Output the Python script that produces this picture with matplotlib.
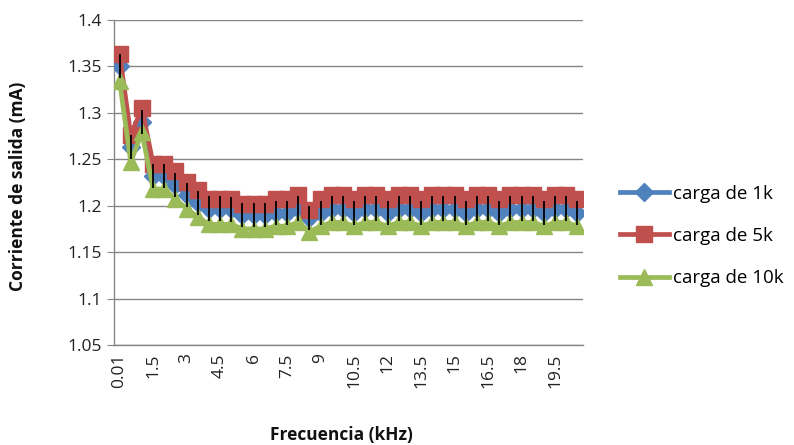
import matplotlib
matplotlib.use("Agg")
import matplotlib.pyplot as plt

plt.rcParams['font.family'] = ['Open Sans', 'DejaVu Sans']

categories = ["0.01", "0.5", "1", "1.5", "2", "2.5", "3", "3.5", "4", "4.5",
              "5", "5.5", "6", "6.5", "7", "7.5", "8", "8.5", "9", "9.5",
              "10", "10.5", "11", "11.5", "12", "12.5", "13", "13.5", "14", "14.5",
              "15", "15.5", "16", "16.5", "17", "17.5", "18", "18.5", "19", "19.5",
              "20", "20.5"]

carga_1k = [1.350, 1.263, 1.290, 1.232, 1.232, 1.222, 1.212, 1.203, 1.197, 1.197,
            1.196, 1.190, 1.190, 1.190, 1.192, 1.192, 1.197, 1.187, 1.192, 1.197,
            1.197, 1.192, 1.197, 1.197, 1.192, 1.197, 1.197, 1.192, 1.197, 1.197,
            1.197, 1.192, 1.197, 1.197, 1.192, 1.197, 1.197, 1.197, 1.192, 1.197,
            1.197, 1.192]

carga_5k = [1.363, 1.276, 1.305, 1.245, 1.245, 1.237, 1.226, 1.217, 1.207, 1.207,
            1.207, 1.202, 1.202, 1.202, 1.207, 1.207, 1.212, 1.195, 1.207, 1.212,
            1.212, 1.207, 1.212, 1.212, 1.207, 1.212, 1.212, 1.207, 1.212, 1.212,
            1.212, 1.207, 1.212, 1.212, 1.207, 1.212, 1.212, 1.212, 1.207, 1.212,
            1.212, 1.207]

carga_10k = [1.334, 1.247, 1.279, 1.218, 1.218, 1.207, 1.197, 1.188, 1.180, 1.180,
             1.180, 1.175, 1.175, 1.175, 1.178, 1.178, 1.182, 1.172, 1.178, 1.182,
             1.182, 1.178, 1.182, 1.182, 1.178, 1.182, 1.182, 1.178, 1.182, 1.182,
             1.182, 1.178, 1.182, 1.182, 1.178, 1.182, 1.182, 1.182, 1.178, 1.182,
             1.182, 1.178]

error_1k = 0.013

series_names = ["carga de 1k", "carga de 5k", "carga de 10k"]
colors = ["#4F81BD", "#C0504D", "#9BBB59"]

fig = plt.figure(figsize=(7.94, 4.45), dpi=100)
ax = fig.add_axes([114/794, 1-345/445, (583-114)/794, (345-20)/445])

x = list(range(len(categories)))
ax.plot(x, carga_1k, color=colors[0], lw=3.4, marker='D', ms=9, label=series_names[0], zorder=3)
ax.plot(x, carga_5k, color=colors[1], lw=3.4, marker='s', ms=11.5, label=series_names[1], zorder=3)
ax.plot(x, carga_10k, color=colors[2], lw=3.4, marker='^', ms=12, label=series_names[2], zorder=3)
ax.errorbar(x, carga_1k, yerr=error_1k, fmt='none', ecolor='black', elinewidth=1.3, capsize=0, zorder=5)

ax.set_xlim(-0.5, len(categories) - 0.5)
ax.set_ylim(1.05, 1.4)
yt = [1.05, 1.1, 1.15, 1.2, 1.25, 1.3, 1.35, 1.4]
ax.set_yticks(yt)
ax.set_yticklabels(["1.05", "1.1", "1.15", "1.2", "1.25", "1.3", "1.35", "1.4"], fontsize=12.5, color='#222222')
ax.set_xticks(x[::3])
ax.set_xticklabels(categories[::3], rotation=90, fontsize=12.5, color='#222222')
ax.tick_params(axis='x', length=0, pad=6)
ax.tick_params(axis='y', length=5, color='#868686', pad=4)
ax.grid(axis='y', color='#868686', lw=1)
ax.set_axisbelow(True)
for s in ['top', 'right']:
    ax.spines[s].set_visible(False)
for s in ['left', 'bottom']:
    ax.spines[s].set_color('#868686')
    ax.spines[s].set_linewidth(1)

fig.text(18/794, 1-186/445, "Corriente de salida (mA)", rotation=90, ha='center', va='center',
         fontsize=12.5, fontweight='bold', color='#111111')
fig.text(341/794, 1-435/445, "Frecuencia (kHz)", ha='center', va='center',
         fontsize=12.5, fontweight='bold', color='#111111')

leg = ax.legend(loc='center left', bbox_to_anchor=(620/794, 1-236/445), bbox_transform=fig.transFigure,
                frameon=False, fontsize=13.5, handlelength=2.6, labelspacing=1.3, handletextpad=0.25,
                borderpad=0, borderaxespad=0)

fig.savefig("out.png", dpi=100)
